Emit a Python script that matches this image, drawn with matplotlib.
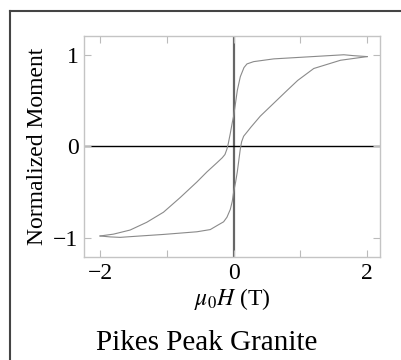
import matplotlib
matplotlib.use('Agg')
import matplotlib.pyplot as plt
from matplotlib.lines import Line2D

# descending branch (field from +2 T to -2 T)
h_down = [2.0, 1.8, 1.65, 1.3, 0.95, 0.6, 0.45, 0.3, 0.2, 0.155, 0.1, 0.055, 0.03, 0.0,
          -0.02, -0.05, -0.08, -0.1, -0.13, -0.17, -0.25, -0.4, -0.55, -0.8, -1.05,
          -1.3, -1.55, -1.8, -2.0]
m_down = [0.98, 0.99, 1.0, 0.985, 0.97, 0.955, 0.94, 0.925, 0.9, 0.86, 0.76, 0.61, 0.48, 0.33,
          0.26, 0.14, 0.03, -0.03, -0.09, -0.125, -0.18, -0.28, -0.39, -0.56, -0.72,
          -0.83, -0.915, -0.96, -0.98]

# ascending branch (field from -2 T to +2 T)
h_up = [-2.0, -1.85, -1.7, -1.4, -1.05, -0.55, -0.35, -0.245, -0.15, -0.1, -0.05, -0.02,
        0.0, 0.03, 0.055, 0.08, 0.1, 0.12, 0.15, 0.2, 0.26, 0.4, 0.6, 0.8, 0.96, 1.2, 1.6, 1.8, 2.0]
m_up = [-0.98, -0.99, -0.995, -0.98, -0.963, -0.934, -0.91, -0.865, -0.825, -0.775, -0.69, -0.6,
        -0.5, -0.39, -0.28, -0.14, -0.03, 0.05, 0.11, 0.155, 0.21, 0.33, 0.47, 0.61, 0.72, 0.85,
        0.94, 0.96, 0.98]

x_ticks = [-2, -1, 0, 1, 2]
x_labels = ['\u22122', '', '0', '', '2']
y_ticks = [-1, 0, 1]
y_labels = ['\u22121', '0', '1']

plt.rcParams['font.family'] = ['Liberation Serif', 'DejaVu Serif']
plt.rcParams['mathtext.fontset'] = 'stix'

fig = plt.figure(figsize=(4.02, 3.6), dpi=100)
ax = fig.add_axes([0.209, 0.286, 0.736, 0.614])

ax.axvline(0, color='#666666', lw=1.6, zorder=1)
ax.axhline(0, color='black', lw=1.0, zorder=1)
ax.plot(h_down, m_down, color='#8a8a8a', lw=0.8, zorder=2)
ax.plot(h_up, m_up, color='#8a8a8a', lw=0.8, zorder=2)

ax.set_xlim(-2.24, 2.19)
ax.set_ylim(-1.21, 1.205)
ax.set_xticks(x_ticks)
ax.set_xticklabels(x_labels)
ax.set_yticks(y_ticks)
ax.set_yticklabels(y_labels)
ax.tick_params(direction='in', length=5, width=0.8, color='#bbbbbb',
               top=True, right=True, labelsize=17, pad=4)
for s in ax.spines.values():
    s.set_color('#c4c4c4')
    s.set_linewidth(1.0)

ax.set_xlabel(r'$\mu_0H$ (T)', fontsize=17, labelpad=2)
ax.set_ylabel('Normalized Moment', fontsize=17, labelpad=4)

fig.text(0.513, 0.028, 'Pikes Peak Granite', fontsize=21, ha='center', va='baseline')

# frame around the panel (left and top edges visible)
fig.add_artist(Line2D([10/402, 10/402], [0, 1 - 11/360], transform=fig.transFigure,
                      color='#444444', lw=1.5))
fig.add_artist(Line2D([10/402, 1], [1 - 11/360, 1 - 11/360], transform=fig.transFigure,
                      color='#444444', lw=1.5))

fig.savefig('out.png', dpi=100)
